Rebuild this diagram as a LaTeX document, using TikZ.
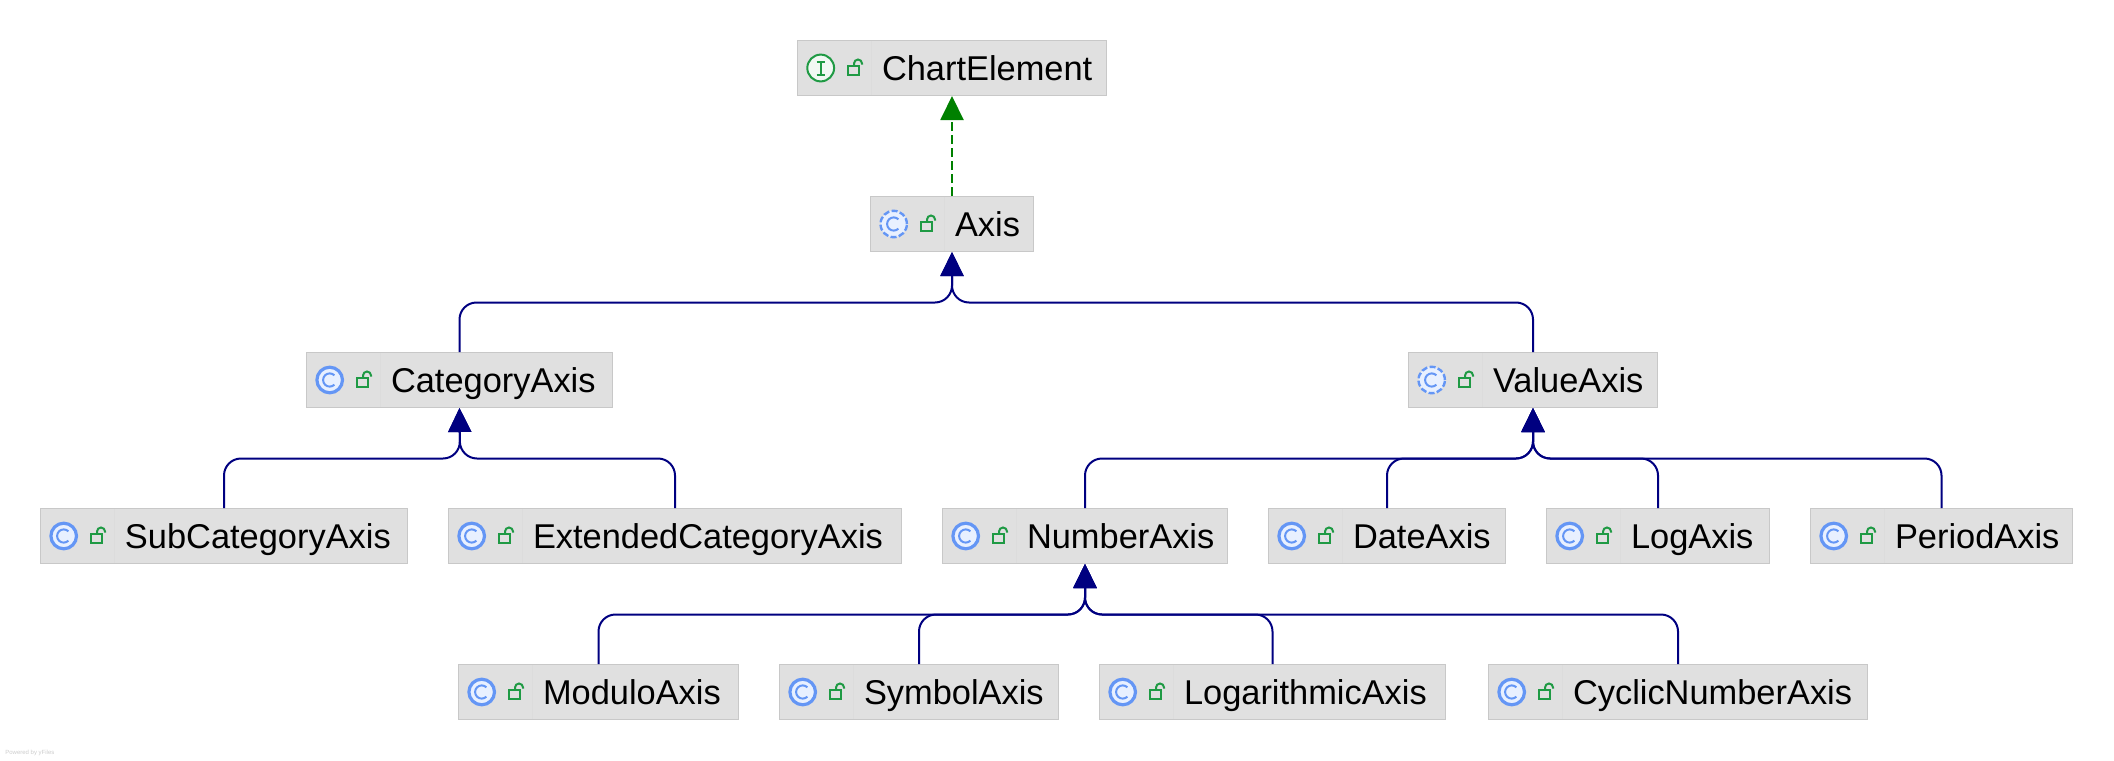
\documentclass[tikz,border=0pt]{standalone}
\usepackage{fontspec}
\setmainfont{Liberation Sans}
\usepackage{tikz}
\usetikzlibrary{arrows.meta}

\definecolor{boxfill}{HTML}{E0E0E0}
\definecolor{boxline}{HTML}{C8C8C8}
\definecolor{boxrule}{HTML}{DCDCDC}
\definecolor{extendblue}{HTML}{000080}
\definecolor{implgreen}{HTML}{008000}
\definecolor{iconblue}{HTML}{6496F5}
\definecolor{iconpale}{HTML}{E8F0FF}
\definecolor{icongreen}{HTML}{1F9A44}
\definecolor{iconmint}{HTML}{F1F8F3}

\tikzset{
	umlnode/.style={draw=boxline, fill=boxfill, line width=0.6pt, inner sep=0pt, minimum height=27.4pt,
		text height=12pt, text depth=0pt, font=\fontsize{17.2}{20}\selectfont},
	extendsline/.style={draw=extendblue, line width=1pt, rounded corners=8.5pt,
		-{Triangle[length=12pt,width=11.5pt,fill=extendblue]}},
	implline/.style={draw=implgreen, line width=1pt, dash pattern=on 4.5pt off 2pt,
		-{Triangle[length=12pt,width=11.5pt,fill=implgreen]}},
	lockicon/.pic={
		\draw[icongreen, line width=1pt] (51,-2.3) rectangle (62,7);
		\draw[icongreen, line width=1pt] (57,-2.3) -- (57,-4.5) arc[start angle=180,end angle=0,radius=2pt] -- (65,-3.5);
	},
	classicon/.pic={
		\draw[iconblue, fill=iconpale, line width=1.6pt] (23.7,0) circle (6.4pt);
		\draw[iconblue, line width=1pt] ([shift={(45:3.3pt)}]23.7,0) arc[start angle=45,end angle=315,radius=3.3pt];
		\pic {lockicon};
	},
	abstracticon/.pic={
		\draw[iconblue, fill=iconpale, line width=1.2pt, dash pattern=on 3pt off 1.2pt] (23.7,0) circle (6.6pt);
		\draw[iconblue, line width=1pt] ([shift={(45:3.3pt)}]23.7,0) arc[start angle=45,end angle=315,radius=3.3pt];
		\pic {lockicon};
	},
	ifaceicon/.pic={
		\draw[icongreen, fill=iconmint, line width=1pt] (23.7,0) circle (6.7pt);
		\draw[icongreen, line width=1pt] (23.7,-6.5) -- (23.7,6.5) (19.5,-6.5) -- (27.9,-6.5) (19.5,6.5) -- (27.9,6.5);
		\pic {lockicon};
	}
}

% name, left, right, top, icon, text
\newcommand{\umlbox}[6]{
	\pgfmathsetmacro{\boxw}{(#3-#2)/2-0.6}
	\node[umlnode, minimum width=\boxw pt] (#1) at ({(#2+#3)/2},{#4+28})
		{\makebox[\boxw pt][l]{\hspace{42.2pt}#6}};
	\draw[boxrule, line width=0.5pt] ([xshift=37.2pt,yshift=-0.3pt]#1.north west) -- ([xshift=37.2pt,yshift=0.3pt]#1.south west);
	\path (#1.west) pic {#5};
}

\begin{document}
\begin{tikzpicture}[x=0.5pt, y=-0.5pt]
	\useasboundingbox (0,0) rectangle (2114,760);

	\umlbox{chartelement}{797}{1107}{40}{ifaceicon}{ChartElement}
	\umlbox{axis}{870}{1034}{196}{abstracticon}{Axis}
	\umlbox{categoryaxis}{306}{613}{352}{classicon}{CategoryAxis}
	\umlbox{valueaxis}{1408}{1658}{352}{abstracticon}{ValueAxis}
	\umlbox{subcategoryaxis}{40}{408}{508}{classicon}{SubCategoryAxis}
	\umlbox{extendedcategoryaxis}{448}{902}{508}{classicon}{ExtendedCategoryAxis}
	\umlbox{numberaxis}{942}{1228}{508}{classicon}{NumberAxis}
	\umlbox{dateaxis}{1268}{1506}{508}{classicon}{DateAxis}
	\umlbox{logaxis}{1546}{1770}{508}{classicon}{LogAxis}
	\umlbox{periodaxis}{1810}{2073}{508}{classicon}{PeriodAxis}
	\umlbox{moduloaxis}{458}{739}{664}{classicon}{ModuloAxis}
	\umlbox{symbolaxis}{779}{1059}{664}{classicon}{SymbolAxis}
	\umlbox{logarithmicaxis}{1099}{1446}{664}{classicon}{LogarithmicAxis}
	\umlbox{cyclicnumberaxis}{1488}{1868}{664}{classicon}{CyclicNumberAxis}

	\coordinate (axisbus) at (952,302.5);
	\coordinate (categorybus) at (460,458.5);
	\coordinate (valuebus) at (1533,458.5);
	\coordinate (numberbus) at (1085,614.5);

	\draw[implline] (axis.north) -- (chartelement.south);

	\draw[extendsline] (categoryaxis.north) |- (axisbus) -- (axis.south);
	\draw[extendsline] (valueaxis.north) |- (axisbus) -- (axis.south);

	\draw[extendsline] (subcategoryaxis.north) |- (categorybus) -- (categoryaxis.south);
	\draw[extendsline] (extendedcategoryaxis.north) |- (categorybus) -- (categoryaxis.south);

	\draw[extendsline] (numberaxis.north) |- (valuebus) -- (valueaxis.south);
	\draw[extendsline] (dateaxis.north) |- (valuebus) -- (valueaxis.south);
	\draw[extendsline] (logaxis.north) |- (valuebus) -- (valueaxis.south);
	\draw[extendsline] (periodaxis.north) |- (valuebus) -- (valueaxis.south);

	\draw[extendsline] (moduloaxis.north) |- (numberbus) -- (numberaxis.south);
	\draw[extendsline] (symbolaxis.north) |- (numberbus) -- (numberaxis.south);
	\draw[extendsline] (logarithmicaxis.north) |- (numberbus) -- (numberaxis.south);
	\draw[extendsline] (cyclicnumberaxis.north) |- (numberbus) -- (numberaxis.south);

	\node[anchor=west, inner sep=0pt, text=black!20, font=\fontsize{3}{4}\selectfont] (poweredby) at (5,753) {Powered by yFiles};
\end{tikzpicture}
\end{document}
